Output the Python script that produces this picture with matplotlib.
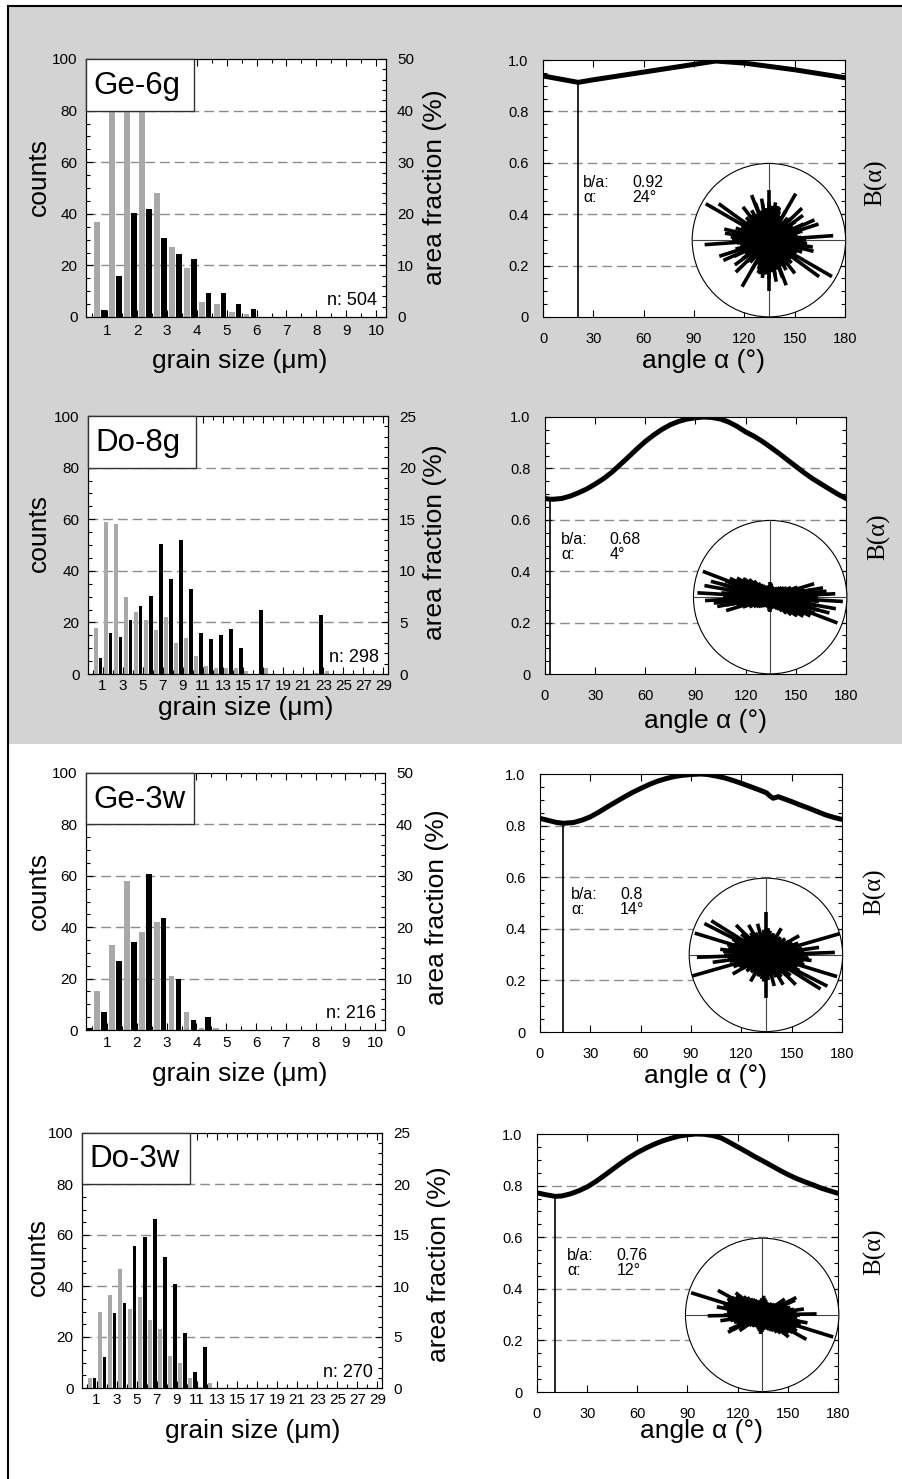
import numpy as np
import matplotlib
matplotlib.use("Agg")
import matplotlib.pyplot as plt
from matplotlib.patches import Rectangle, Circle
from matplotlib.lines import Line2D
from matplotlib.ticker import MultipleLocator, FixedLocator, FuncFormatter

plt.rcParams['font.family'] = ['Liberation Sans', 'DejaVu Sans']

W, H = 903, 1479

# ---- grain size histograms (grey = counts, black = area fraction) ----
samples = ['Ge-6g', 'Do-8g', 'Ge-3w', 'Do-3w']
n_grains = [504, 298, 216, 270]

ge6g_lo = [0.5, 1.0, 1.5, 2.0, 2.5, 3.0, 3.5, 4.0, 4.5, 5.0, 5.5]
ge6g_counts = [37, 105, 135, 119, 48, 27, 19, 6, 5, 2, 1]
ge6g_area = [1.4, 8.0, 20.1, 21.0, 15.3, 12.2, 11.2, 4.7, 4.7, 2.6, 1.6]

do8g_lo = [0, 1, 2, 3, 4, 5, 6, 7, 8, 9, 10, 11, 12, 13, 14, 15, 16, 17, 18, 19, 20, 21, 22, 23]
do8g_counts = [18, 59, 58, 30, 24, 21, 17, 22, 12, 14, 7, 3, 2.5, 2.5, 2.5, 1.3, 0, 2.3, 0, 0, 0, 0, 0.5, 1]
do8g_area = [1.55, 4.0, 3.6, 5.2, 6.6, 7.6, 12.6, 9.2, 13.0, 8.2, 4.0, 3.4, 3.8, 4.4, 2.5, 0, 6.2, 0, 0, 0, 0, 0, 5.7, 0]

ge3w_lo = [0.0, 0.5, 1.0, 1.5, 2.0, 2.5, 3.0, 3.5, 4.0, 4.5]
ge3w_counts = [0, 15, 33, 58, 38, 42, 21, 7, 0.7, 0.7]
ge3w_area = [0.45, 3.45, 13.4, 17.1, 30.4, 21.7, 9.9, 1.95, 2.6, 0]

do3w_lo = [0, 1, 2, 3, 4, 5, 6, 7, 8, 9, 10, 11, 12]
do3w_counts = [4.1, 29.9, 36.6, 46.7, 30.8, 35.7, 26.6, 23, 12.6, 9.9, 4.1, 0.3, 1.9]
do3w_area = [1.0, 3.0, 7.4, 8.3, 13.9, 14.8, 16.6, 12.8, 10.2, 5.4, 1.6, 4.0, 0]

ge_ticks = [1, 2, 3, 4, 5, 6, 7, 8, 9, 10]
do_ticks = [1, 3, 5, 7, 9, 11, 13, 15, 17, 19, 21, 23, 25, 27, 29]

# ---- B(alpha) curves ----
ge6g_ang = [0, 21, 30, 60, 90, 103, 120, 150, 180]
ge6g_B = [0.938, 0.913, 0.923, 0.953, 0.983, 0.996, 0.988, 0.962, 0.931]

do8g_ang = [0, 3, 5, 10, 15, 20, 25, 30, 35, 40, 45, 50, 55, 60, 65, 70, 75, 80, 85, 90, 95,
            100, 105, 110, 115, 120, 125, 130, 135, 140, 145, 150, 155, 160, 165, 170, 175, 180]
do8g_B = [0.683, 0.680, 0.680, 0.683, 0.692, 0.705, 0.720, 0.739, 0.760, 0.785, 0.815, 0.845,
          0.876, 0.905, 0.930, 0.952, 0.970, 0.983, 0.992, 0.997, 1.000, 0.998, 0.992, 0.980,
          0.963, 0.942, 0.925, 0.905, 0.882, 0.858, 0.833, 0.808, 0.783, 0.760, 0.740, 0.720,
          0.700, 0.683]

ge3w_ang = [0, 5, 10, 14, 20, 25, 30, 35, 40, 45, 50, 55, 60, 65, 70, 75, 80, 85, 90, 96, 100,
            105, 110, 115, 120, 125, 130, 135, 137, 139, 142, 145, 150, 155, 160, 165, 170, 175, 180]
ge3w_B = [0.828, 0.820, 0.812, 0.809, 0.812, 0.821, 0.834, 0.852, 0.872, 0.891, 0.910, 0.928,
          0.944, 0.959, 0.972, 0.982, 0.990, 0.995, 0.998, 1.000, 0.998, 0.992, 0.985, 0.975,
          0.964, 0.952, 0.940, 0.927, 0.915, 0.906, 0.912, 0.905, 0.893, 0.880, 0.868, 0.855,
          0.842, 0.832, 0.824]

do3w_ang = [0, 5, 11, 15, 20, 25, 30, 35, 40, 45, 50, 55, 60, 65, 70, 75, 80, 85, 90, 95, 100,
            105, 110, 115, 120, 125, 130, 135, 140, 145, 150, 155, 160, 165, 170, 175, 180]
do3w_B = [0.772, 0.765, 0.758, 0.760, 0.768, 0.780, 0.795, 0.815, 0.838, 0.862, 0.886, 0.908,
          0.928, 0.945, 0.960, 0.973, 0.983, 0.992, 0.997, 1.000, 0.999, 0.994, 0.985, 0.968,
          0.950, 0.932, 0.913, 0.896, 0.878, 0.860, 0.843, 0.828, 0.815, 0.803, 0.790, 0.780,
          0.770]

b_min_angle = [21, 3, 14, 11]
ba_ratio = [0.92, 0.68, 0.8, 0.76]
alpha_deg = [24, 4, 14, 12]

# ---- rose insets: core spokes every 5 deg + long spokes (fraction of radius) ----
core_ang = list(range(0, 180, 5))
ge6g_core = [0.48, 0.42, 0.38, 0.45, 0.40, 0.50, 0.36, 0.42, 0.33, 0.40, 0.38, 0.30, 0.44, 0.35,
             0.40, 0.46, 0.38, 0.45, 0.50, 0.42, 0.48, 0.40, 0.52, 0.38, 0.45, 0.40, 0.35, 0.42,
             0.38, 0.44, 0.36, 0.40, 0.46, 0.38, 0.42, 0.50]
ge6g_long_ang = [150, 144, 60, 90, 24, 4, 111, 72, 171, 44, 128, 36, 166, 18, 100, 80]
ge6g_long_len = [0.95, 0.81, 0.70, 0.66, 0.65, 0.84, 0.63, 0.45, 0.58, 0.60, 0.55, 0.55, 0.60, 0.68, 0.55, 0.50]

do8g_core = [0.62, 0.55, 0.58, 0.45, 0.38, 0.30, 0.25, 0.22, 0.20, 0.18, 0.16, 0.15, 0.14, 0.13,
             0.13, 0.14, 0.15, 0.18, 0.20, 0.16, 0.14, 0.14, 0.15, 0.16, 0.18, 0.20, 0.24, 0.30,
             0.36, 0.42, 0.50, 0.58, 0.62, 0.66, 0.60, 0.64]
do8g_long_ang = [159, 176.6, 6, 146, 17, 170, 10, 165, 3]
do8g_long_len = [0.94, 0.95, 0.74, 0.43, 0.60, 0.87, 0.70, 0.80, 0.85]

ge3w_core = [0.55, 0.50, 0.48, 0.42, 0.45, 0.38, 0.35, 0.30, 0.33, 0.28, 0.30, 0.26, 0.28, 0.25,
             0.30, 0.28, 0.32, 0.35, 0.30, 0.33, 0.28, 0.30, 0.26, 0.32, 0.30, 0.35, 0.32, 0.38,
             0.42, 0.36, 0.45, 0.48, 0.44, 0.52, 0.50, 0.56]
ge3w_long_ang = [16, 163, 148, 2, 90, 153, 173, 30, 120, 135, 8, 60, 105]
ge3w_long_len = [1.0, 0.97, 0.84, 0.90, 0.56, 0.90, 0.60, 0.50, 0.45, 0.55, 0.70, 0.40, 0.42]

do3w_core = [0.50, 0.45, 0.42, 0.38, 0.35, 0.30, 0.26, 0.24, 0.22, 0.20, 0.20, 0.18, 0.18, 0.17,
             0.18, 0.20, 0.22, 0.25, 0.22, 0.20, 0.18, 0.18, 0.20, 0.22, 0.24, 0.26, 0.30, 0.34,
             0.38, 0.42, 0.46, 0.50, 0.48, 0.52, 0.50, 0.46]
do3w_long_ang = [162.7, 151, 1, 24, 27, 170, 8, 35, 140]
do3w_long_len = [0.97, 0.66, 0.71, 0.47, 0.50, 0.60, 0.55, 0.36, 0.45]

fig = plt.figure(figsize=(W / 100, H / 100), dpi=100)
fig.patches.append(Rectangle((9 / W, 1 - 744 / H), 1 - 9 / W, (744 - 7) / H,
                             transform=fig.transFigure, fc='#d3d3d3', ec='none', zorder=-5))
fig.add_artist(Line2D([8 / W, 1], [1 - 5.5 / H] * 2, color='black', lw=1.5))
fig.add_artist(Line2D([8 / W] * 2, [0, 1 - 5.5 / H], color='black', lw=1.5))

GRID = dict(color='#8c8c8c', lw=1.0, ls=(0, (7, 3.6)), zorder=1)


def px_axes(box):
    x0, y0, x1, y1 = box
    return fig.add_axes([x0 / W, 1 - y1 / H, (x1 - x0) / W, (y1 - y0) / H])


def to_ax(box, px, py):
    x0, y0, x1, y1 = box
    return (px - x0) / (x1 - x0), (y1 - py) / (y1 - y0)


def place_label(lbl, axis, box, px, py):
    lbl.set_ha('center')
    lbl.set_va('center')
    lbl.set_rotation_mode('default')
    axis.set_label_coords(*to_ax(box, px, py))


def hist_panel(box, name, n, lo, counts, area, width, xlim, xmajor, area_max,
               area_step, area_minor, xpad, xl, yl, yr):
    ax = px_axes(box)
    ax2 = ax.twinx()
    lo = np.asarray(lo, dtype=float)
    ax.bar(lo + 0.33 * width, counts, width=0.38 * width, color='#a9a9a9', zorder=2)
    ax2.bar(lo + 0.79 * width, area, width=0.38 * width, color='black', zorder=2)
    for g in [20, 40, 60, 80]:
        ax.axhline(g, **GRID)
    ax.set_xlim(xlim)
    ax.set_ylim(0, 100)
    ax2.set_ylim(0, area_max)
    ax.xaxis.set_major_locator(FixedLocator(xmajor))
    ax.xaxis.set_minor_locator(MultipleLocator(width))
    ax.yaxis.set_major_locator(MultipleLocator(20))
    ax.yaxis.set_minor_locator(MultipleLocator(5))
    ax2.yaxis.set_major_locator(MultipleLocator(area_step))
    ax2.yaxis.set_minor_locator(MultipleLocator(area_minor))
    ax.tick_params(which='both', direction='in', top=True, labelsize=11, width=0.8)
    ax.tick_params(which='major', length=5)
    ax.tick_params(which='minor', length=3)
    ax.tick_params(axis='x', pad=xpad)
    ax.tick_params(axis='y', pad=6)
    ax2.tick_params(which='both', direction='in', labelsize=11, pad=8, width=0.8)
    ax2.tick_params(which='major', length=5)
    ax2.tick_params(which='minor', length=3)
    ax2.add_patch(Rectangle((0, 0.8), 0.36, 0.2, transform=ax2.transAxes, fc='white',
                            ec='#333333', lw=1.0, zorder=5, clip_on=False))
    ax2.text(0.025, 0.865, name, transform=ax2.transAxes, fontsize=22.5, zorder=6)
    ax2.text(0.97, 0.045, 'n: %d' % n, transform=ax2.transAxes, fontsize=13,
             ha='right', va='baseline', zorder=6)
    ax.set_xlabel('grain size (μm)', fontsize=19)
    ax.set_ylabel('counts', fontsize=19)
    ax2.set_ylabel('area fraction (%)', fontsize=19)
    place_label(ax.xaxis.label, ax.xaxis, box, *xl)
    place_label(ax.yaxis.label, ax.yaxis, box, *yl)
    place_label(ax2.yaxis.label, ax2.yaxis, box, *yr)


def b_panel(box, ang, bval, amin, ba, alpha, txt_x, txt_y, val_x, core, long_ang, long_len,
            xl, yr):
    ax = px_axes(box)
    for g in [0.2, 0.4, 0.6, 0.8]:
        ax.axhline(g, **GRID)
    ax.plot(ang, bval, color='black', lw=3.6, solid_joinstyle='round', zorder=3)
    ax.plot([amin, amin], [0, np.interp(amin, ang, bval)], color='black', lw=1.2, zorder=3)
    ax.set_xlim(0, 180)
    ax.set_ylim(0, 1.0)
    ax.xaxis.set_major_locator(MultipleLocator(30))
    ax.yaxis.set_major_locator(MultipleLocator(0.2))
    ax.yaxis.set_minor_locator(MultipleLocator(0.05))
    ax.yaxis.set_major_formatter(FuncFormatter(lambda v, p: '0' if abs(v) < 1e-9 else '%.1f' % v))
    ax.tick_params(which='both', direction='in', top=True, right=True, labelsize=10.5, width=0.8)
    ax.tick_params(which='major', length=5)
    ax.tick_params(which='minor', length=3)
    ax.tick_params(axis='x', pad=10.5)
    ax.tick_params(axis='y', pad=10.5)
    ax.text(txt_x, txt_y, 'b/a:', fontsize=11.5)
    ax.text(val_x, txt_y, str(ba), fontsize=11.5)
    ax.text(txt_x, txt_y - 0.058, 'α:', fontsize=11.5)
    ax.text(val_x, txt_y - 0.058, '%d°' % alpha, fontsize=11.5)

    x0, y0, x1, y1 = box
    wpx, hpx = x1 - x0, y1 - y0
    R = 76.7
    ins = ax.inset_axes([0.748 - R / wpx, 0.299 - R / hpx, 2 * R / wpx, 2 * R / hpx])
    ins.set_xlim(-1, 1)
    ins.set_ylim(-1, 1)
    ins.axis('off')
    ins.add_patch(Circle((0, 0), 1, fc='white', ec='black', lw=0.8, clip_on=False, zorder=1))
    ins.plot([-1, 1], [0, 0], color='#444444', lw=0.8, zorder=2)
    ins.plot([0, 0], [-1, 1], color='#444444', lw=0.8, zorder=2)
    for a, r in list(zip(core_ang, core)) + list(zip(long_ang, long_len)):
        t = np.deg2rad(a)
        ins.plot([-r * np.cos(t), r * np.cos(t)], [-r * np.sin(t), r * np.sin(t)],
                 color='black', lw=2.6, solid_capstyle='butt', zorder=3)

    ax.set_xlabel('angle α (°)', fontsize=19)
    ax.yaxis.set_label_position('right')
    ax.set_ylabel('B(α)', fontsize=18, family=['Liberation Serif', 'DejaVu Serif'])
    place_label(ax.xaxis.label, ax.xaxis, box, *xl)
    place_label(ax.yaxis.label, ax.yaxis, box, *yr)


GE_XLIM = (0.29, 10.33)
DO_XLIM = (-0.45, 29.45)

hist_panel((86, 59, 386, 317), samples[0], n_grains[0], ge6g_lo, ge6g_counts, ge6g_area, 0.5,
           GE_XLIM, ge_ticks, 50, 10, 2, 5, (240, 361), (39, 177), (435, 187))
hist_panel((88, 416, 388, 674), samples[1], n_grains[1], do8g_lo, do8g_counts, do8g_area, 1.0,
           DO_XLIM, do_ticks, 25, 5, 1, 3.6, (246, 708), (39, 533), (435, 542))
hist_panel((86, 773, 385, 1030), samples[2], n_grains[2], ge3w_lo, ge3w_counts, ge3w_area, 0.5,
           GE_XLIM, ge_ticks, 50, 10, 2, 4.3, (240, 1074), (39, 891), (437, 907))
hist_panel((82, 1133, 382, 1388), samples[3], n_grains[3], do3w_lo, do3w_counts, do3w_area, 1.0,
           DO_XLIM, do_ticks, 25, 5, 1, 3.6, (253, 1431), (38, 1257), (439, 1264))

b_panel((543, 60, 845, 317), ge6g_ang, ge6g_B, b_min_angle[0], ba_ratio[0], alpha_deg[0],
        24, 0.506, 53, ge6g_core, ge6g_long_ang, ge6g_long_len, (704, 361), (876, 183))
b_panel((545, 417, 846, 674), do8g_ang, do8g_B, b_min_angle[1], ba_ratio[1], alpha_deg[1],
        9.6, 0.506, 38.4, do8g_core, do8g_long_ang, do8g_long_len, (706, 721), (879, 537))
b_panel((540, 774, 842, 1032), ge3w_ang, ge3w_B, b_min_angle[2], ba_ratio[2], alpha_deg[2],
        18.7, 0.515, 47.7, ge3w_core, ge3w_long_ang, ge3w_long_len, (706, 1076), (875, 892))
b_panel((537, 1134, 838, 1392), do3w_ang, do3w_B, b_min_angle[3], ba_ratio[3], alpha_deg[3],
        18, 0.511, 47.7, do3w_core, do3w_long_ang, do3w_long_len, (702, 1431), (875, 1252))

fig.savefig('out.png', dpi=100)
